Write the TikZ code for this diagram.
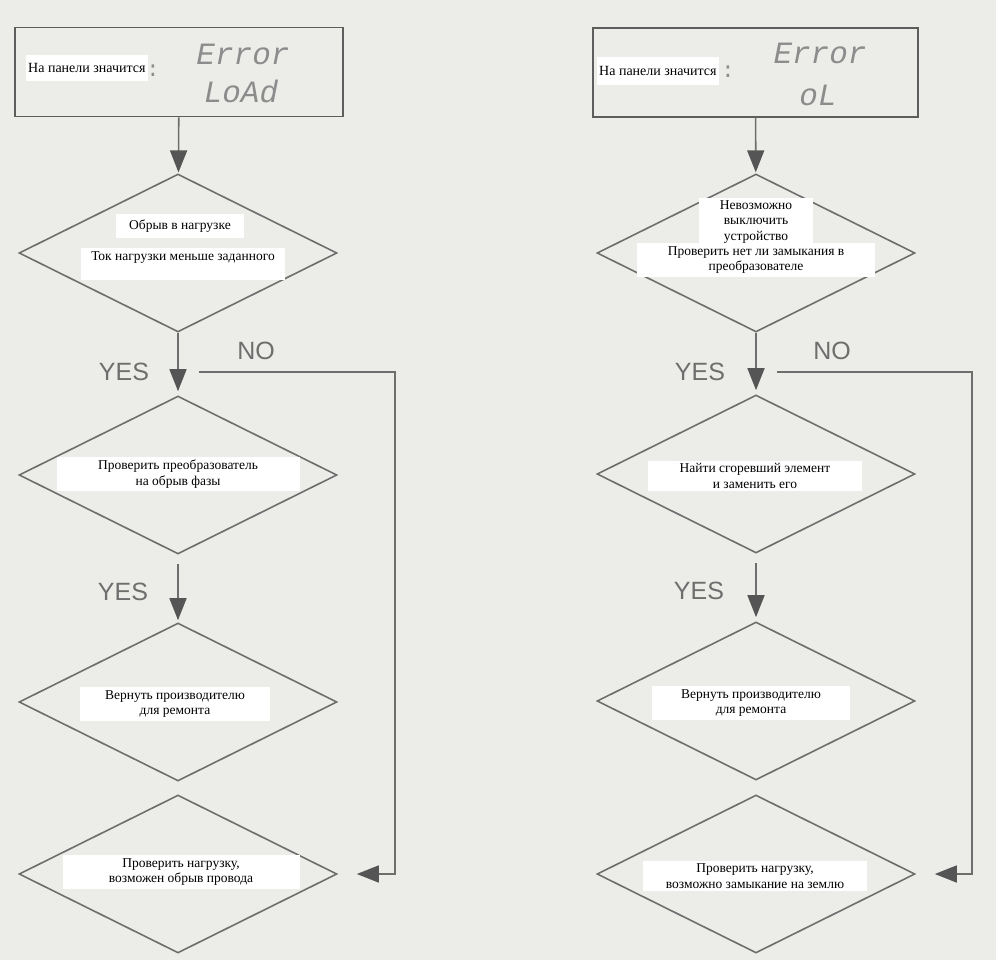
\documentclass[tikz,border=0pt]{standalone}
\usepackage{fontspec}
\setmainfont{Liberation Serif}
\newfontfamily\lcdfont{Liberation Mono}
\newfontfamily\yesfont{Liberation Sans}
\usetikzlibrary{shapes.geometric,arrows.meta}
\definecolor{scan}{RGB}{236,236,233}
\definecolor{ink}{RGB}{110,110,110}
\definecolor{tipc}{RGB}{85,85,85}
\definecolor{lcd}{RGB}{140,140,140}
\begin{document}
\begin{tikzpicture}[x=1pt,y=-1pt,
 dia/.style={diamond,draw=ink,line width=1.6pt,minimum width=318pt,minimum height=158pt,inner sep=0pt},
 panel/.style={draw=ink!85!black,line width=1.6pt,minimum height=89pt,inner sep=0pt},
 lbl/.style={fill=white,font=\fontsize{13.5}{15.5}\selectfont,align=center,inner xsep=3pt,inner ysep=3pt},
 yn/.style={font=\yesfont\fontsize{25}{25}\selectfont,text=ink},
 lcdtxt/.style={font=\lcdfont\itshape\fontsize{31}{31}\selectfont,text=lcd},
 arr/.style={draw=ink,line width=1.6pt,-{Triangle[length=22pt,width=17pt,color=tipc]}}]
 \fill[scan] (0,0) rectangle (996,960);
 % left chart
 \node[panel,minimum width=328pt] (boxL) at (179,72) {};
 \node[lbl,anchor=west,font=\fontsize{14}{16}\selectfont,inner xsep=2pt,inner ysep=8pt] (capL) at (26,68) {На панели значится};
 \node[lcdtxt,font=\lcdfont\fontsize{22}{22}\selectfont] (colL) at (153,71) {:};
 \node[lcdtxt] (errL) at (243,54) {Error};
 \node[lcdtxt] (codeL) at (241,91) {LoAd};
 \node[dia] (dL1) at (178,253) {};
 \node[dia] (dL2) at (178,475) {};
 \node[dia] (dL3) at (178,702) {};
 \node[dia] (dL4) at (178,874) {};
 \node[lbl,inner xsep=13pt,inner ysep=6pt] (tL1a) at (180,226) {Обрыв в нагрузке};
 \node[lbl,anchor=north,inner xsep=10pt,text depth=17pt] (tL1b) at (183,248) {Ток нагрузки меньше заданного};
 \node[lbl,minimum width=243pt] (tL2) at (178,474) {Проверить преобразователь\\на обрыв фазы};
 \node[lbl,minimum width=190pt] (tL3) at (175,704) {Вернуть производителю\\для ремонта};
 \node[lbl,minimum width=237pt] (tL4) at (181,872) {Проверить нагрузку,\\возможен обрыв провода};
 \draw[arr,shorten >=1pt] (boxL) -- (dL1);
 \draw[arr,shorten >=4pt] (dL1) -- (dL2);
 \draw[arr,shorten <=9pt,shorten >=2pt] (dL2) -- (dL3);
 \node[yn] (yesL1) at (124,372) {YES};
 \node[yn] (yesL2) at (123,592) {YES};
 \node[yn] (noL) at (256,351) {NO};
 \coordinate (noLs) at (199,372);
 \draw[arr] (noLs) -- ++(196,0) |- ([xshift=19pt]dL4.east);
 % right chart
 \node[panel,minimum width=325pt] (boxR) at (755.5,72.5) {};
 \node[lbl,anchor=west,font=\fontsize{14}{16}\selectfont,inner xsep=2pt,inner ysep=9pt] (capR) at (597,71) {На панели значится};
 \node[lcdtxt,font=\lcdfont\fontsize{22}{22}\selectfont] (colR) at (728,72) {:};
 \node[lcdtxt] (errR) at (820,53) {Error};
 \node[lcdtxt] (codeR) at (818,95) {oL};
 \node[dia] (dR1) at (756,253) {};
 \node[dia] (dR2) at (756,474) {};
 \node[dia] (dR3) at (756,701) {};
 \node[dia] (dR4) at (756,874) {};
 \node[lbl,minimum width=114pt] (tR1a) at (756,222) {Невозможно\\выключить\\устройство};
 \node[lbl,minimum width=238pt] (tR1b) at (756,260) {Проверить нет ли замыкания в\\преобразователе};
 \node[lbl,minimum width=214pt] (tR2) at (755,476) {Найти сгоревший элемент\\и заменить его};
 \node[lbl,minimum width=198pt] (tR3) at (751,703) {Вернуть производителю\\для ремонта};
 \node[lbl,minimum width=224pt] (tR4) at (755,876) {Проверить нагрузку,\\возможно замыкание на землю};
 \draw[arr,shorten >=1pt] (boxR) -- (dR1);
 \draw[arr,shorten >=4pt] (dR1) -- (dR2);
 \draw[arr,shorten <=9pt,shorten >=4pt] (dR2) -- (dR3);
 \node[yn] (yesR1) at (700,372) {YES};
 \node[yn] (yesR2) at (699,591) {YES};
 \node[yn] (noR) at (832,351) {NO};
 \coordinate (noRs) at (777,372);
 \draw[arr] (noRs) -- ++(195,0) |- ([xshift=19pt]dR4.east);
\end{tikzpicture}
\end{document}
